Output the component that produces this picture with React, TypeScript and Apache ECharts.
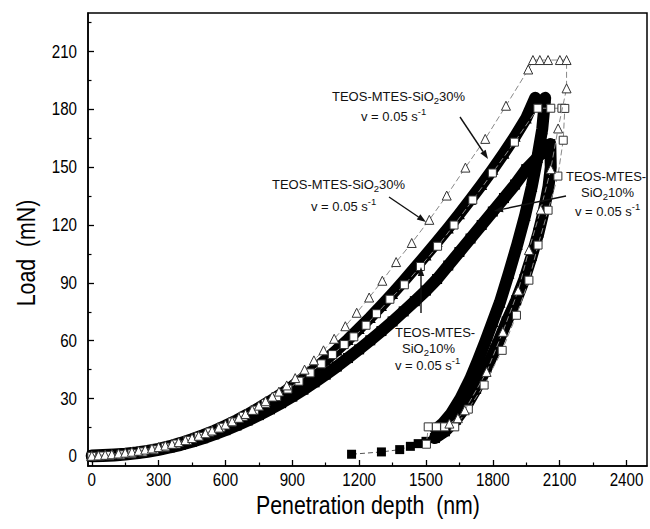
import React, { useEffect, useRef } from "react";
import * as echarts from "echarts";

const xMajor = [0, 300, 600, 900, 1200, 1500, 1800, 2100, 2400];
const xMinor = [150, 450, 750, 1050, 1350, 1650, 1950, 2250];
const yMajor = [0, 30, 60, 90, 120, 150, 180, 210];
const yMinor = [15, 45, 75, 105, 135, 165, 195, 225];

// open triangles (TEOS-MTES-SiO2 30%, other rate)
const openTriangle: number[][] = [
  [0, 0.3], [30, 0.5], [60, 0.8], [90, 1.1], [120, 1.5], [150, 1.9], [180, 2.4], [210, 2.9],
  [240, 3.5], [270, 4.1], [300, 4.8], [330, 5.6], [360, 6.5], [390, 7.4], [420, 8.4], [450, 9.5],
  [480, 10.7], [510, 12], [540, 13.4], [570, 14.9], [600, 16.5], [630, 18.2], [660, 20], [690, 22],
  [720, 24.1], [750, 26.3], [780, 28.6], [810, 31], [840, 33.6], [875, 36.8], [913, 40.6], [955, 45],
  [997, 49.8], [1040, 55], [1088, 61], [1138, 67.5], [1189, 74.5], [1245, 82.4], [1304, 91.1],
  [1366, 100.8], [1436, 110.7], [1515, 122.7], [1593, 135.3], [1677, 149.8], [1766, 164.7],
  [1859, 181.9], [1959, 200.7], [1980, 205.6], [2011, 205.6], [2048, 205.6], [2101, 205.6], [2131, 205.6],
  [2131, 190.9], [2093, 170.1], [2060, 149], [2015, 128], [1962, 107], [1914, 86], [1845, 64.6],
  [1772, 43.8], [1674, 23.9], [1643, 19.8], [1605, 17],
];

// open squares (TEOS-MTES-SiO2 10%, other rate)
const openSquare: number[][] = [
  [0, 0], [40, 0.2], [80, 0.4], [130, 0.8], [180, 1.4], [230, 2.3], [280, 3.4], [330, 4.8],
  [380, 6.4], [430, 8.3], [480, 10.3], [530, 12.6], [580, 15.1], [630, 17.8], [680, 20.8],
  [730, 24], [780, 27.4], [830, 31], [880, 34.9], [930, 39], [980, 43.3], [1030, 48],
  [1080, 52.8], [1133, 58], [1176, 62], [1231, 68], [1278, 74], [1338, 81.5], [1403, 89],
  [1475, 98.5], [1552, 109], [1626, 120], [1710, 133], [1798, 147], [1897, 163], [2002, 180.6],
  [2060, 180.6], [2110, 180.6], [2123, 180.5],
  [2116, 164], [2092, 145.4], [2048, 127.7], [2003, 109.6], [1962, 91.4], [1906, 73.2],
  [1842, 55], [1761, 37], [1690, 24.5], [1629, 15.3], [1584, 15.3], [1547, 15.3], [1510, 15.3], [1502, 6.3],
];

// filled triangles (TEOS-MTES-SiO2 30%, v = 0.05 s-1)
const filledTriangle: number[][] = [
  [0, 0.5], [50, 0.7], [100, 1], [150, 1.4], [200, 2], [250, 2.8], [300, 3.9], [350, 5.3],
  [400, 7], [450, 8.9], [500, 11], [550, 13.3], [600, 15.9], [650, 18.7], [700, 21.8],
  [750, 25.1], [800, 28.6], [850, 32.3], [900, 36.3], [950, 40.6], [1000, 45.2], [1050, 50.1],
  [1100, 55.2], [1150, 60.6], [1200, 66.3], [1250, 72.1], [1300, 78.2], [1350, 84.5],
  [1400, 91], [1450, 97.7], [1500, 104.5], [1550, 111.4], [1600, 118.5], [1650, 125.8],
  [1700, 133.3], [1750, 141], [1800, 149], [1850, 157.3], [1900, 166], [1950, 175.5],
  [1990, 186], [2010, 182], [2035, 186],
  [2022, 170], [2000, 155], [1975, 140], [1945, 125], [1910, 110], [1872, 95], [1832, 80],
  [1800, 70], [1768, 60], [1734, 50], [1698, 40], [1655, 30], [1612, 22], [1575, 17], [1545, 14],
];

// filled squares (TEOS-MTES-SiO2 10%, v = 0.05 s-1)
const filledSquare: number[][] = [
  [0, 0], [50, 0.2], [100, 0.5], [150, 1], [200, 1.6], [250, 2.4], [300, 3.4], [350, 4.6],
  [400, 6], [450, 7.6], [500, 9.4], [550, 11.4], [600, 13.6], [650, 16], [700, 18.6],
  [750, 21.4], [800, 24.4], [850, 27.6], [900, 31], [950, 34.6], [1000, 38.4], [1050, 42.4],
  [1100, 46.6], [1150, 51], [1200, 55.5], [1250, 60.2], [1300, 65], [1350, 70], [1400, 75.2],
  [1450, 80.5], [1500, 86], [1550, 92], [1600, 99], [1650, 106], [1700, 113], [1750, 120],
  [1800, 127], [1850, 134], [1900, 141], [1950, 149], [2000, 155], [2040, 160], [2058, 162],
  [2060, 150], [2050, 140], [2030, 128], [2005, 116], [1975, 104], [1942, 92], [1905, 81],
  [1862, 70], [1820, 58], [1772, 46], [1725, 35], [1680, 26], [1635, 19], [1585, 13], [1540, 9.5],
];

const filledSquareTail: number[][] = [
  [1540, 9.5], [1500, 7.8], [1465, 6.6], [1430, 5.2], [1382, 3.5], [1300, 2.3], [1166, 1.1],
];

const SANS = '"Liberation Sans", Arial, Helvetica, sans-serif';
const NARROW_SCALE = 0.82;
const MAIN_SIZE = 13;
const SMALL_SIZE = 9.5;

const X_MIN = -17;
const X_MAX = 2492;
const Y_MIN = -5;
const Y_MAX = 230;

type Part = [string, "n" | "sub" | "sup"];

const L30: Part[] = [["TEOS-MTES-SiO", "n"], ["2", "sub"], ["30%", "n"]];
const L10a: Part[] = [["TEOS-MTES-", "n"]];
const L10b: Part[] = [["SiO", "n"], ["2", "sub"], ["10%", "n"]];
const LV: Part[] = [["v = 0.05 s", "n"], ["-1", "sup"]];

let measureCtx: CanvasRenderingContext2D | null = null;
function measure(text: string, size: number): number {
  if (!measureCtx) measureCtx = document.createElement("canvas").getContext("2d");
  if (!measureCtx) return text.length * size * 0.55;
  measureCtx.font = `${size}px ${SANS}`;
  return measureCtx.measureText(text).width;
}

function label(x: number, y: number, parts: Part[]) {
  const els: any[] = [];
  let cx = x;
  parts.forEach(([t, k]) => {
    const size = k === "n" ? MAIN_SIZE : SMALL_SIZE;
    const dy = k === "sub" ? 4.5 : k === "sup" ? -5 : 0;
    els.push({
      type: "text",
      x: cx,
      y: y + dy,
      z: 100,
      style: { text: t, fontSize: size, fontFamily: SANS, fill: "#111", align: "left", verticalAlign: "middle" },
    });
    cx += measure(t, size);
  });
  return els;
}

function arrow(x1: number, y1: number, x2: number, y2: number) {
  const dx = x2 - x1;
  const dy = y2 - y1;
  const len = Math.sqrt(dx * dx + dy * dy);
  const ux = dx / len;
  const uy = dy / len;
  const hl = 9;
  const hw = 3.2;
  const bx = x2 - ux * hl;
  const by = y2 - uy * hl;
  return [
    {
      type: "line",
      z: 100,
      shape: { x1, y1, x2: bx, y2: by },
      style: { stroke: "#111", lineWidth: 1.4 },
    },
    {
      type: "polygon",
      z: 100,
      shape: {
        points: [
          [x2, y2],
          [bx - uy * hw, by + ux * hw],
          [bx + uy * hw, by - ux * hw],
        ],
      },
      style: { fill: "#111" },
    },
  ];
}

function narrowText(x: number, y: number, text: string, size: number, align: string, rotation = 0) {
  return {
    type: "text",
    x,
    y,
    rotation,
    scaleX: NARROW_SCALE,
    z: 50,
    style: {
      text,
      fontSize: size,
      fontFamily: SANS,
      fill: "#000",
      align,
      verticalAlign: "middle",
    },
  };
}

export default function App() {
  const ref = useRef<HTMLDivElement>(null);

  useEffect(() => {
    if (!ref.current) return;
    const chart = echarts.init(ref.current, undefined, { renderer: "svg" });

    const gridPos = { left: 88, right: 3, top: 13, bottom: 63 };

    const baseGraphic: any[] = [
      ...label(332, 96, L30),
      ...label(361, 116.5, LV),
      ...label(272, 184, L30),
      ...label(311, 206, LV),
      ...label(566, 176, L10a),
      ...label(581, 192, L10b),
      ...label(575, 211, LV),
      ...label(395, 332, L10a),
      ...label(402, 348, L10b),
      ...label(395, 365, LV),
      ...arrow(460, 117, 488, 159),
      ...arrow(389, 197, 426, 222),
      ...arrow(566, 196, 494, 211),
      ...arrow(421, 313, 421, 267),
      narrowText(368, 505, "Penetration depth  (nm)", 26, "center"),
      narrowText(26, 253, "Load  (mN)", 26, "center", Math.PI / 2),
    ];

    const option: any = {
      animation: false,
      backgroundColor: "#fff",
      grid: [
        { ...gridPos, show: true, borderColor: "#000", borderWidth: 1.5, backgroundColor: "transparent" },
        { ...gridPos, show: false },
      ],
      xAxis: [
        {
          type: "value",
          gridIndex: 0,
          min: X_MIN,
          max: X_MAX,
          axisLine: { show: true, onZero: false, lineStyle: { color: "#000", width: 1.5 } },
          axisTick: { show: true, inside: true, length: 6, customValues: xMajor, lineStyle: { color: "#000", width: 1.3 } },
          axisLabel: { show: false },
          splitLine: { show: false },
        },
        {
          type: "value",
          gridIndex: 1,
          min: X_MIN,
          max: X_MAX,
          axisLine: { show: false, onZero: false },
          axisTick: { show: true, inside: true, length: 3.5, customValues: xMinor, lineStyle: { color: "#000", width: 1.2 } },
          axisLabel: { show: false },
          splitLine: { show: false },
        },
      ],
      yAxis: [
        {
          type: "value",
          gridIndex: 0,
          min: Y_MIN,
          max: Y_MAX,
          axisLine: { show: true, onZero: false, lineStyle: { color: "#000", width: 1.5 } },
          axisTick: { show: true, inside: true, length: 6, customValues: yMajor, lineStyle: { color: "#000", width: 1.3 } },
          axisLabel: { show: false },
          splitLine: { show: false },
        },
        {
          type: "value",
          gridIndex: 1,
          min: Y_MIN,
          max: Y_MAX,
          axisLine: { show: false, onZero: false },
          axisTick: { show: true, inside: true, length: 3.5, customValues: yMinor, lineStyle: { color: "#000", width: 1.2 } },
          axisLabel: { show: false },
          splitLine: { show: false },
        },
      ],
      series: [
        {
          type: "line",
          name: "filledSquare",
          data: filledSquare,
          xAxisIndex: 0,
          yAxisIndex: 0,
          z: 2,
          symbol: "rect",
          symbolSize: 10,
          itemStyle: { color: "#000" },
          lineStyle: { color: "#000", width: 12, cap: "round", join: "round" },
        },
        {
          type: "line",
          name: "filledSquareTail",
          data: filledSquareTail,
          z: 2,
          symbol: "rect",
          symbolSize: 9,
          itemStyle: { color: "#000" },
          lineStyle: { color: "#555", width: 1, type: [5, 3] },
        },
        {
          type: "line",
          name: "filledTriangle",
          data: filledTriangle,
          z: 3,
          symbol: "triangle",
          symbolSize: 11,
          itemStyle: { color: "#000" },
          lineStyle: { color: "#000", width: 12, cap: "round", join: "round" },
        },
        {
          type: "line",
          name: "openSquare",
          data: openSquare,
          z: 5,
          symbol: "rect",
          symbolSize: 8,
          itemStyle: { color: "#fff", borderColor: "#333", borderWidth: 1 },
          lineStyle: { color: "#888", width: 1, type: [6, 3] },
        },
        {
          type: "line",
          name: "openTriangle",
          data: openTriangle,
          z: 6,
          symbol: "triangle",
          symbolSize: 9,
          itemStyle: { color: "#fff", borderColor: "#333", borderWidth: 1 },
          lineStyle: { color: "#888", width: 1, type: [6, 3] },
        },
      ],
      graphic: baseGraphic,
    };

    chart.setOption(option);

    const tickLabels: any[] = [];
    xMajor.forEach((v) => {
      const px = chart.convertToPixel({ xAxisIndex: 0 }, v) as number;
      tickLabels.push(narrowText(px, 480, String(v), 18.5, "center"));
    });
    yMajor.forEach((v) => {
      const py = chart.convertToPixel({ yAxisIndex: 0 }, v) as number;
      tickLabels.push(narrowText(77, py, String(v), 18.5, "right"));
    });

    chart.setOption({ graphic: [...baseGraphic, ...tickLabels] }, { replaceMerge: ["graphic"] });

    return () => chart.dispose();
  }, []);

  return <div ref={ref} style={{ width: 650, height: 529, position: "absolute", left: 0, top: 0 }} />;
}
